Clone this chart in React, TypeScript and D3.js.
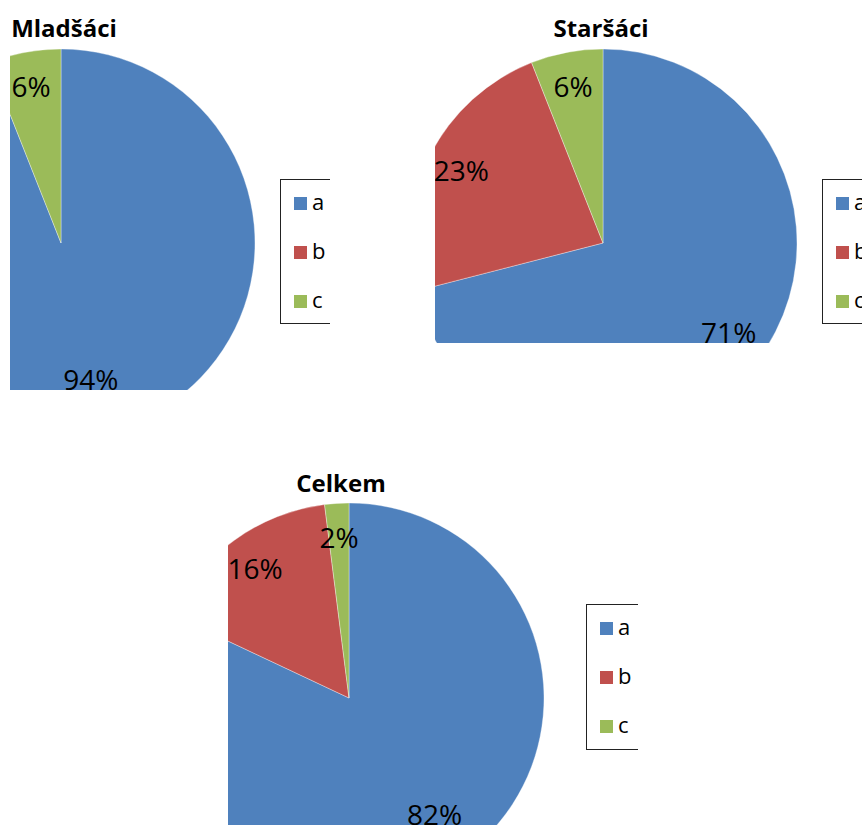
import React from 'react';
import * as d3 from 'd3';

// Answer categories shared by all three pies
const categories = ['a', 'b', 'c'];
const chartTitles = ['Mladšáci', 'Staršáci', 'Celkem'];

// Share of answers in percent, per group
const mladsaci = [94, 0, 6];
const starsaci = [71, 23, 6];
const celkem = [82, 16, 2];

const seriesValues = [mladsaci, starsaci, celkem];

const colors = ['#4F81BD', '#C0504D', '#9BBB59'];

// Frame of each chart panel: visible window, pie placement, title and legend box
const panels = [
  { clip: { x0: 10, y0: 0, x1: 330, y1: 390 }, cx: 61, cy: 243, r: 194, titleX: 64, titleY: 37, legend: { x: 280, y: 179, w: 70, h: 144 } },
  { clip: { x0: 435, y0: 0, x1: 862, y1: 343 }, cx: 603, cy: 243, r: 194, titleX: 601, titleY: 37, legend: { x: 822, y: 179, w: 70, h: 144 } },
  { clip: { x0: 228, y0: 440, x1: 638, y1: 825 }, cx: 349, cy: 698, r: 195, titleX: 341, titleY: 492, legend: { x: 586, y: 604, w: 70, h: 145 } },
];

const FONT = "'Open Sans', 'DejaVu Sans', sans-serif";

function PiePanel({ idx }: { idx: number }) {
  const p = panels[idx];
  const values = seriesValues[idx];
  const data = categories.map((c, i) => ({ cat: c, value: values[i], color: colors[i] }));
  const pie = d3.pie<any>().sort(null).value((d: any) => d.value);
  const arcs = pie(data);
  const arc = d3.arc<any>().innerRadius(0).outerRadius(p.r);
  const labelArc = d3.arc<any>().innerRadius(p.r * 0.82).outerRadius(p.r * 0.82);
  const clipId = `clip-${idx}`;
  const w = p.clip.x1 - p.clip.x0;
  const h = p.clip.y1 - p.clip.y0;
  const rowGap = 49;
  return (
    <g>
      <defs>
        <clipPath id={clipId}>
          <rect x={p.clip.x0} y={p.clip.y0} width={w} height={h} />
        </clipPath>
      </defs>
      <g clipPath={`url(#${clipId})`}>
        <text x={p.titleX} y={p.titleY} textAnchor="middle" fontFamily={FONT} fontWeight="bold" fontSize={24} fill="#000">
          {chartTitles[idx]}
        </text>
        <g transform={`translate(${p.cx},${p.cy})`}>
          {arcs.map((a, i) =>
            a.data.value > 0 ? (
              <path key={i} d={arc(a) as string} fill={a.data.color} stroke="rgba(255,255,255,0.35)" strokeWidth={1} />
            ) : null
          )}
        </g>
        {arcs.map((a, i) => {
          if (a.data.value <= 0) return null;
          const [lx, ly] = labelArc.centroid(a);
          let baseline = p.cy + ly + 10;
          // keep the label inside the chart window
          if (baseline > p.clip.y1) baseline = p.clip.y1;
          return (
            <text key={`l${i}`} x={p.cx + lx} y={baseline} textAnchor="middle" fontFamily={FONT} fontSize={28} fill="#000">
              {`${a.data.value}%`}
            </text>
          );
        })}
        <rect x={p.legend.x + 0.5} y={p.legend.y + 0.5} width={p.legend.w} height={p.legend.h} fill="#fff" stroke="#222" strokeWidth={1} />
        {categories.map((c, i) => {
          const base = p.legend.y + 31 + i * rowGap;
          return (
            <g key={`lg${i}`}>
              <rect x={p.legend.x + 14} y={base - 13} width={13} height={13} fill={colors[i]} />
              <text x={p.legend.x + 32} y={base} fontFamily={FONT} fontSize={22} fill="#000">
                {c}
              </text>
            </g>
          );
        })}
      </g>
    </g>
  );
}

export default function App() {
  return (
    <svg width={862} height={825} style={{ position: 'absolute', left: 0, top: 0, background: '#fff' }}>
      <rect width={862} height={825} fill="#fff" />
      {panels.map((_, i) => (
        <PiePanel key={i} idx={i} />
      ))}
    </svg>
  );
}
